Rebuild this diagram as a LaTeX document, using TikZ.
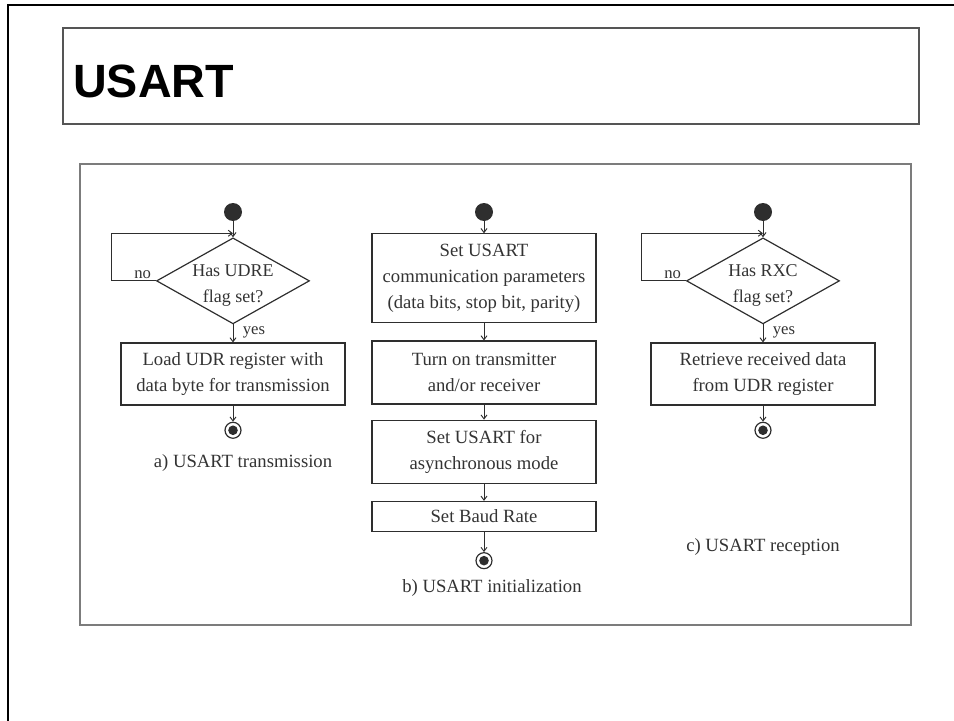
\documentclass[tikz,border=0pt]{standalone}
\usepackage{fontspec}
\setmainfont{Liberation Serif}
\newfontfamily\headfont{Liberation Sans}
\usepackage{tikz}
\usetikzlibrary{shapes.geometric, arrows.meta, positioning, calc}
\definecolor{FL_LINE}{HTML}{2e2e2e}
\definecolor{FL_TEXT}{HTML}{333333}
\definecolor{FL_FRAME}{HTML}{7c7c7c}
\definecolor{FL_TITLE}{HTML}{555555}
\newcommand{\flowfont}{\fontsize{14}{19.5}\selectfont}
\newcommand{\tagfont}{\fontsize{12.5}{14}\selectfont}
\tikzset{
  actbox/.style={
    rectangle, draw=FL_LINE, line width=0.9pt,
    minimum width=168pt, minimum height=47.25pt,
    text centered, align=center, inner sep=2pt,
    text=FL_TEXT, font=\flowfont},
  decide/.style={
    diamond, draw=FL_LINE, line width=0.9pt,
    aspect=1.78, minimum width=114.75pt, minimum height=64.5pt,
    inner sep=-4pt, text height=35pt, text centered, align=center,
    text=FL_TEXT, font=\fontsize{13.5}{19.5}\selectfont},
  startpt/.style={
    circle, fill=FL_LINE, minimum size=13.5pt, inner sep=0pt},
  endpt/.style={
    circle, draw=FL_LINE, line width=0.9pt, fill=white,
    minimum size=12pt, inner sep=0pt,
    path picture={\fill[FL_LINE] (path picture bounding box.center) circle (3.6pt);}},
  arr/.style={-{Straight Barb[length=3pt,width=4.5pt]}, line width=0.7pt, color=FL_LINE},
  lbl/.style={inner sep=1pt, text=FL_TEXT, font=\tagfont},
  capt/.style={inner sep=1pt, text=FL_TEXT, font=\flowfont},
  titlebox/.style={draw=FL_TITLE, line width=1pt},
  figbox/.style={draw=FL_FRAME, line width=1.8pt},
}

\begin{document}
\begin{tikzpicture}[x=0.75pt, y=-0.75pt, node distance=12pt]
  \useasboundingbox (0,0) rectangle (954,721);

  % slide frame and title
  \draw[black, line width=2.2pt] (8,721) -- (8,5) -- (954,5);
  \draw[titlebox] (63,28) rectangle (919,124);
  \node[anchor=base west, inner sep=0pt,
        font=\headfont\bfseries\fontsize{35}{40}\selectfont] (title) at (73,97) {USART};
  \draw[figbox] (80,164) rectangle (911,625);

  % a) transmission
  \node[startpt] (sA) at (233,212) {};
  \node[decide, below=12pt of sA] (dA) {Has UDRE\\flag set?};
  \node[actbox, minimum height=46.5pt, below=13.5pt of dA] (bA)
    {Load UDR register with\\data byte for transmission};
  \node[endpt, below=of bA] (eA) {};
  \node[capt] (cA) at (243,463) {a) USART transmission};
  \coordinate (jA) at ($(dA.north)+(0,-4)$);

  % b) initialization
  \node[startpt] (sB) at (484,212) {};
  \node[actbox, minimum height=66.75pt, below=9pt of sB] (bB1)
    {Set USART\\communication parameters\\(data bits, stop bit, parity)};
  \node[actbox, below=12.75pt of bB1] (bB2)
    {Turn on transmitter\\and/or receiver};
  \node[actbox, below=11.25pt of bB2] (bB3)
    {Set USART for\\asynchronous mode};
  \node[actbox, minimum height=22.5pt, below=12.75pt of bB3] (bB4)
    {Set Baud Rate};
  \node[endpt, below=15pt of bB4] (eB) {};
  \node[capt] (cB) at (492,588) {b) USART initialization};

  % c) reception
  \node[startpt] (sC) at (763,212) {};
  \node[decide, below=12pt of sC] (dC) {Has RXC\\flag set?};
  \node[actbox, minimum height=46.5pt, below=13.5pt of dC] (bC)
    {Retrieve received data\\from UDR register};
  \node[endpt, below=of bC] (eC) {};
  \node[capt] (cC) at (763,547) {c) USART reception};
  \coordinate (jC) at ($(dC.north)+(0,-4)$);

  \draw[arr] (sA)  -- (dA);
  \draw[arr] (dA.west) -- node[lbl, above, pos=0.3]{no} ++(-44,0) |- (jA);
  \draw[arr] (dA)  -- node[lbl, right=6pt, pos=0.45]{yes} (bA);
  \draw[arr] (bA)  -- (eA);

  \draw[arr] (sB)  -- (bB1);
  \draw[arr] (bB1) -- (bB2);
  \draw[arr] (bB2) -- (bB3);
  \draw[arr] (bB3) -- (bB4);
  \draw[arr] (bB4) -- (eB);

  \draw[arr] (sC)  -- (dC);
  \draw[arr] (dC.west) -- node[lbl, above, pos=0.3]{no} ++(-44,0) |- (jC);
  \draw[arr] (dC)  -- node[lbl, right=6pt, pos=0.45]{yes} (bC);
  \draw[arr] (bC)  -- (eC);

\end{tikzpicture}
\end{document}
